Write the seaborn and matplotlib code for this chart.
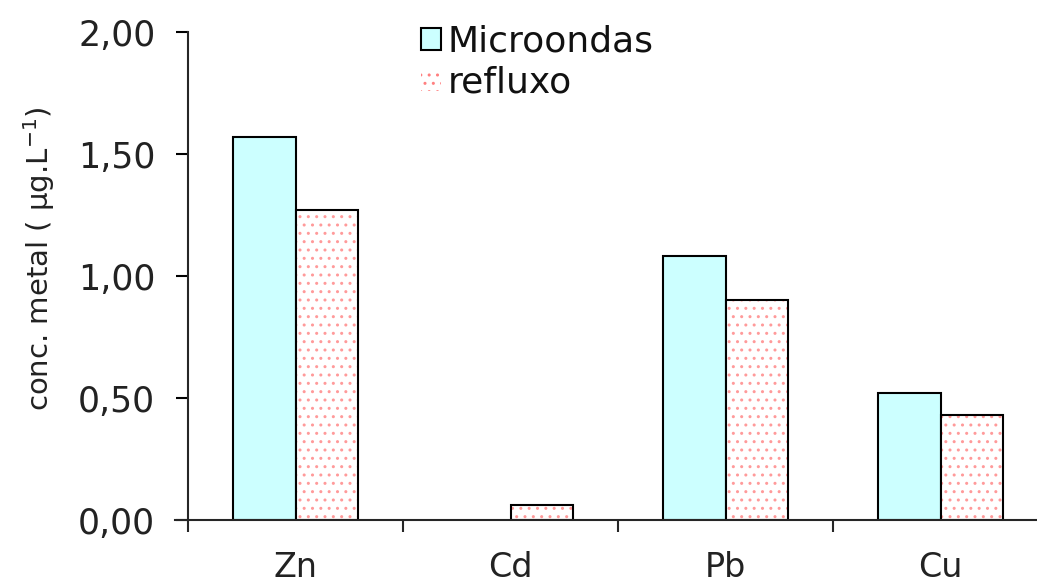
import numpy as np
import pandas as pd
import matplotlib
matplotlib.use('Agg')
import matplotlib.pyplot as plt
import seaborn as sns
from matplotlib.patches import Rectangle
from matplotlib.ticker import FuncFormatter

# DADOS
metais = ['Zn', 'Cd', 'Pb', 'Cu']
microondas = [1.57, 0.0, 1.08, 0.52]
refluxo = [1.27, 0.06, 0.90, 0.43]
series = ['Microondas', 'refluxo']

df = pd.DataFrame({
    'metal': metais * 2,
    'metodo': [series[0]] * len(metais) + [series[1]] * len(metais),
    'conc': microondas + refluxo,
})

sns.set_style('ticks')
plt.rcParams['font.family'] = ['DejaVu Sans']
plt.rcParams['hatch.linewidth'] = 1.0

fig = plt.figure(figsize=(10.37, 5.86), dpi=100)
# o eixo x continua alem da borda direita, como no original
ax = fig.add_axes([188 / 1037, 66 / 586, 860 / 1037, 488 / 586])

sns.barplot(data=df, x='metal', y='conc', hue='metodo', order=metais,
            hue_order=series, palette=['#ccffff', 'white'], saturation=1,
            width=0.58, edgecolor='black', linewidth=1.5, ax=ax, legend=False)

# padrao pontilhado vermelho para refluxo
n = len(metais)
for p in ax.patches[n:2 * n]:
    x, y = p.get_xy()
    w, h = p.get_width(), p.get_height()
    if h == 0:
        continue
    p.set_edgecolor('#ff9a9a')
    p.set_linewidth(0)
    p.set_hatch('..')
    ax.add_patch(Rectangle((x, y), w, h, fill=False, edgecolor='black',
                           linewidth=1.5, zorder=p.get_zorder() + 0.1))
for p in ax.patches[:n]:
    if p.get_height() == 0:
        p.set_visible(False)

ax.set_xlim(-0.5, 3.5)
ax.set_ylim(0, 2.0)
ax.set_yticks([0, 0.5, 1.0, 1.5, 2.0])
ax.yaxis.set_major_formatter(FuncFormatter(lambda v, _: f'{v:.2f}'.replace('.', ',')))
ax.set_xticks([-0.5, 0.5, 1.5, 2.5, 3.5], minor=True)
ax.tick_params(axis='x', which='major', length=0, pad=22, labelsize=24, colors='#222222')
ax.tick_params(axis='x', which='minor', length=8.5, width=1.5, direction='out')
ax.tick_params(axis='y', length=8.5, width=1.5, pad=15, labelsize=25, colors='#222222')
ax.tick_params(axis='both', color='black')

for s in ['top', 'right']:
    ax.spines[s].set_visible(False)
ax.spines['left'].set_linewidth(1.5)
ax.spines['bottom'].set_linewidth(1.5)
ax.spines['bottom'].set_bounds(-0.56, 3.5)

ax.set_xlabel('')
ax.set_ylabel(r'conc. metal ( $\mathregular{\mu}$g.L$^{\mathregular{-1}}$)',
              fontsize=21, color='#222222')
ax.yaxis.set_label_coords(-0.152, 0.535)

# legenda
handles = [
    Rectangle((0, 0), 1, 1, facecolor='#ccffff', edgecolor='black', linewidth=1.5),
    Rectangle((0, 0), 1, 1, facecolor='white', edgecolor='#ff8080', hatch='..',
              linewidth=0),
]
leg = ax.legend(handles, series, loc='upper left', bbox_to_anchor=(0.254, 1.045),
                frameon=False, fontsize=26, handlelength=0.55, handleheight=0.55,
                handletextpad=0.2, labelspacing=0.2, borderaxespad=0)
for t in leg.get_texts():
    t.set_color('#111111')

plt.savefig('out.png', dpi=100)
plt.close()
